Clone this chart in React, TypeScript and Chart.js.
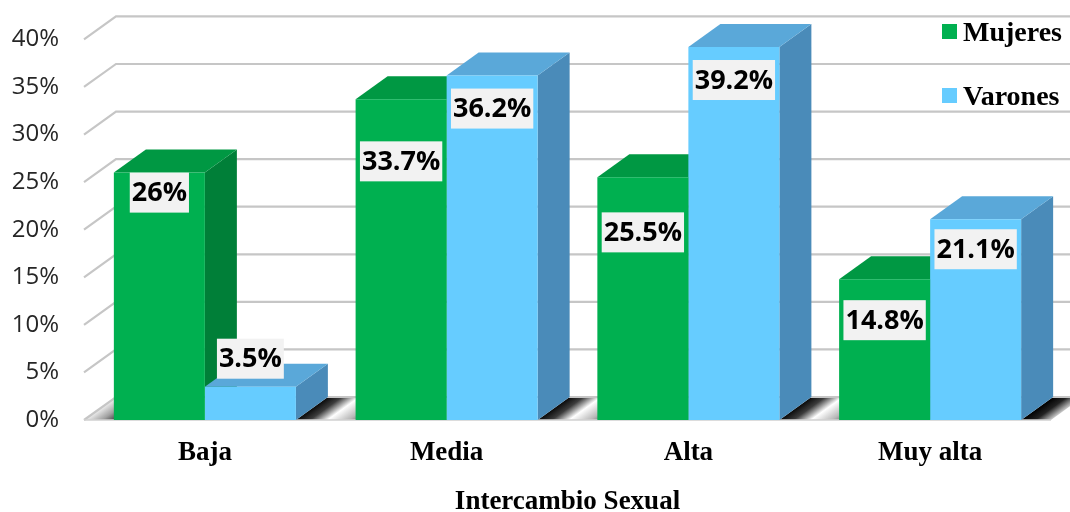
import React, { useEffect, useRef } from 'react';
import { Chart, registerables } from 'chart.js';

Chart.register(...registerables);

// ---- data ----
const categories = ['Baja', 'Media', 'Alta', 'Muy alta'];
const mujeres = [26, 33.7, 25.5, 14.8];
const varones = [3.5, 36.2, 39.2, 21.1];
const seriesLabels = ['Mujeres', 'Varones'];
const axisTitle = 'Intercambio Sexual';
const yMax = 40;
const yStep = 5;

// ---- styling ----
const DEPTH_X = 32;
const DEPTH_Y = -23;
const FACE_COLORS = [
  { front: '#00B050', side: '#007F38', top: '#009843' },
  { front: '#66CCFF', side: '#4A8BB9', top: '#5AA8D9' },
];
// vertical offset (px) of each value label's box centre from its bar top
const LABEL_OFFSETS = [
  [20, 62, 55, 41],
  [-28, 33, 33, 30],
];

type Rect = { xl: number; xr: number; top: number; base: number };

function barRects(chart: any): Rect[][] {
  return chart.data.datasets.map((_: any, d: number) =>
    chart.getDatasetMeta(d).data.map((el: any) => {
      const p = el.getProps(['x', 'y', 'base', 'width'], true);
      return { xl: p.x - p.width / 2, xr: p.x + p.width / 2, top: p.y, base: p.base };
    })
  );
}

function poly(ctx: CanvasRenderingContext2D, pts: number[][], fill: any) {
  ctx.beginPath();
  ctx.moveTo(pts[0][0], pts[0][1]);
  for (let i = 1; i < pts.length; i++) ctx.lineTo(pts[i][0], pts[i][1]);
  ctx.closePath();
  ctx.fillStyle = fill;
  ctx.fill();
}

const threeDPlugin = {
  id: 'threeD',
  beforeDatasetsDraw(chart: any) {
    const { ctx, chartArea: a, scales } = chart;
    const y = scales.y;
    const B = a.bottom;
    const rects = barRects(chart);
    const nd = rects.length;
    const nc = rects[0].length;
    ctx.save();

    // floor gaps
    const gaps: [number, number, string][] = [];
    gaps.push([a.left, rects[0][0].xl, 'first']);
    for (let i = 0; i < nc - 1; i++) gaps.push([rects[nd - 1][i].xr, rects[0][i + 1].xl, 'mid']);
    gaps.push([rects[nd - 1][nc - 1].xr, a.right, 'last']);
    const len = Math.hypot(DEPTH_X, DEPTH_Y);
    const nx = -DEPTH_Y / len;
    const ny = DEPTH_X / len;
    gaps.forEach(([xa, xb, kind]) => {
      const span = Math.max(8, (xb - xa) * nx + 6);
      const g = ctx.createLinearGradient(xa, B, xa + span * nx, B + span * ny);
      if (kind === 'first') {
        g.addColorStop(0, '#f0f0f0');
        g.addColorStop(0.45, '#a0a0a0');
        g.addColorStop(1, '#000000');
      } else if (kind === 'last') {
        g.addColorStop(0, '#000000');
        g.addColorStop(0.35, '#222222');
        g.addColorStop(0.75, '#d0d0d0');
        g.addColorStop(1, '#ffffff');
      } else {
        g.addColorStop(0, '#0a0a0a');
        g.addColorStop(0.2, '#3c3c3c');
        g.addColorStop(0.45, '#ffffff');
        g.addColorStop(0.75, '#b8b8b8');
        g.addColorStop(1, '#505050');
      }
      poly(ctx, [[xa, B], [xb, B], [xb + DEPTH_X, B + DEPTH_Y], [xa + DEPTH_X, B + DEPTH_Y]], g);
    });

    // gridlines: left diagonal + back wall
    ctx.strokeStyle = '#c6c6c6';
    ctx.lineWidth = 2.2;
    y.ticks.forEach((t: any) => {
      const yy = y.getPixelForValue(t.value);
      ctx.beginPath();
      ctx.moveTo(a.left, yy);
      ctx.lineTo(a.left + DEPTH_X, yy + DEPTH_Y);
      ctx.lineTo(a.right + DEPTH_X, yy + DEPTH_Y);
      ctx.stroke();
    });
    // floor front edge
    ctx.strokeStyle = '#d0d0d0';
    ctx.lineWidth = 1.5;
    ctx.beginPath();
    ctx.moveTo(a.left, B);
    ctx.lineTo(a.right, B);
    ctx.stroke();

    // bar sides and tops, left to right
    for (let i = 0; i < nc; i++) {
      for (let d = 0; d < nd; d++) {
        const r = rects[d][i];
        const c = FACE_COLORS[d];
        poly(ctx, [[r.xr, r.top], [r.xr + DEPTH_X, r.top + DEPTH_Y], [r.xr + DEPTH_X, r.base + DEPTH_Y], [r.xr, r.base]], c.side);
        poly(ctx, [[r.xl, r.top], [r.xr, r.top], [r.xr + DEPTH_X, r.top + DEPTH_Y], [r.xl + DEPTH_X, r.top + DEPTH_Y]], c.top);
      }
    }
    ctx.restore();
  },
  afterDatasetsDraw(chart: any) {
    const { ctx } = chart;
    const rects = barRects(chart);
    ctx.save();
    ctx.font = 'bold 27px "Open Sans"';
    ctx.textAlign = 'center';
    ctx.textBaseline = 'middle';
    chart.data.datasets.forEach((ds: any, d: number) => {
      ds.data.forEach((v: number, i: number) => {
        const r = rects[d][i];
        const text = v + '%';
        const cx = (r.xl + r.xr) / 2;
        const cy = r.top + LABEL_OFFSETS[d][i];
        const w = ctx.measureText(text).width + 4;
        const h = 40;
        ctx.fillStyle = '#F2F2F2';
        ctx.fillRect(cx - w / 2, cy - h / 2, w, h);
        ctx.fillStyle = '#000000';
        ctx.fillText(text, cx, cy + 1);
      });
    });
    ctx.restore();
  },
  afterDraw(chart: any) {
    const { ctx } = chart;
    ctx.save();
    const lx = 942;
    const ly0 = 24;
    const step = 64;
    chart.data.datasets.forEach((ds: any, d: number) => {
      ctx.fillStyle = ds.backgroundColor;
      ctx.fillRect(lx, ly0 + d * step, 15, 15);
      ctx.fillStyle = '#000000';
      ctx.font = 'bold 28px "Liberation Serif"';
      ctx.textAlign = 'left';
      ctx.textBaseline = 'alphabetic';
      ctx.fillText(ds.label, lx + 21, ly0 + d * step + 17);
    });
    ctx.restore();
  },
};

export default function App() {
  const ref = useRef<HTMLCanvasElement | null>(null);
  useEffect(() => {
    document.body.style.margin = '0';
    if (!ref.current) return;
    const chart = new Chart(ref.current, {
      type: 'bar',
      data: {
        labels: categories,
        datasets: [
          { label: seriesLabels[0], data: mujeres, backgroundColor: FACE_COLORS[0].front, borderWidth: 0 },
          { label: seriesLabels[1], data: varones, backgroundColor: FACE_COLORS[1].front, borderWidth: 0 },
        ],
      },
      options: {
        animation: false,
        responsive: false,
        devicePixelRatio: 1,
        layout: { padding: { top: 38, right: 19, left: 0, bottom: 0 } },
        datasets: { bar: { categoryPercentage: 0.753, barPercentage: 1.0 } },
        plugins: { legend: { display: false }, tooltip: { enabled: false } },
        scales: {
          x: {
            grid: { display: false, drawTicks: false },
            border: { display: false },
            ticks: { color: '#000', padding: 17, font: { family: 'Liberation Serif', size: 27, weight: 'bold' } },
            title: {
              display: true,
              text: axisTitle,
              color: '#000',
              font: { family: 'Liberation Serif', size: 27, weight: 'bold', lineHeight: 0.74 },
              padding: { top: 4, bottom: 0 },
            },
            afterFit: (s: any) => { s.height = 92; },
          },
          y: {
            min: 0,
            max: yMax,
            grid: { display: false, drawTicks: false },
            border: { display: false },
            ticks: {
              stepSize: yStep,
              color: '#262626',
              padding: 25,
              font: { family: 'Open Sans', size: 24 },
              callback: (v: any) => v + '%',
            },
            afterFit: (s: any) => { s.width = 84; },
          },
        },
      },
      plugins: [threeDPlugin],
    } as any);
    return () => chart.destroy();
  }, []);
  return <canvas ref={ref} width={1070} height={512} style={{ display: 'block' }} />;
}
